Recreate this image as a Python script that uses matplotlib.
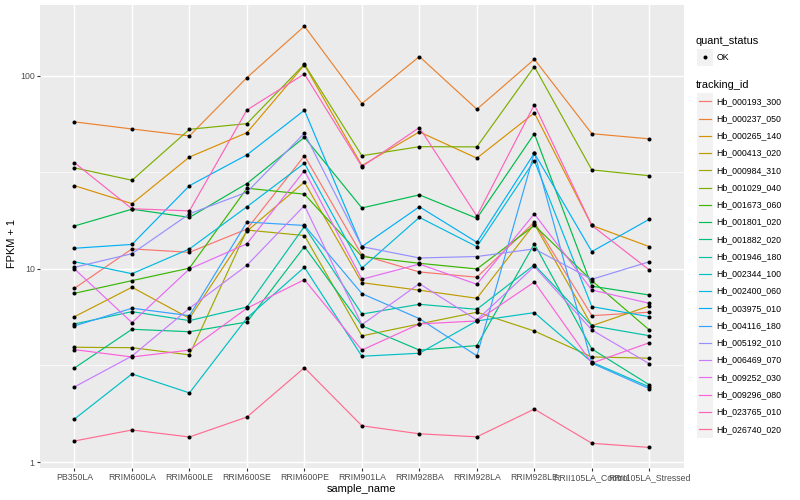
import matplotlib
matplotlib.use("Agg")
import matplotlib.pyplot as plt
from matplotlib.lines import Line2D
from matplotlib.patches import Rectangle
from matplotlib.ticker import FixedLocator, NullFormatter

plt.rcParams['font.family'] = ['Liberation Sans', 'DejaVu Sans']

samples = ["PB350LA", "RRIM600LA", "RRIM600LE", "RRIM600SE", "RRIM600PE",
           "RRIM901LA", "RRIM928BA", "RRIM928LA", "RRIM928LE",
           "RRII105LA_Control", "RRII105LA_Stressed"]

tracking_ids = ["Hb_000193_300", "Hb_000237_050", "Hb_000265_140", "Hb_000413_020",
                "Hb_000984_310", "Hb_001029_040", "Hb_001673_060", "Hb_001801_020",
                "Hb_001882_020", "Hb_001946_180", "Hb_002344_100", "Hb_002400_060",
                "Hb_003975_010", "Hb_004116_180", "Hb_005192_010", "Hb_006469_070",
                "Hb_009252_030", "Hb_009296_080", "Hb_023765_010", "Hb_026740_020"]

# FPKM + 1 per sample (order of `samples`)
hb_000193_300 = [7.94, 12.7, 12.2, 16.1, 38.6, 11.8, 9.65, 9.06, 17.5, 5.73, 5.97]
hb_000237_050 = [57.8, 53.1, 48.9, 98.0, 181, 71.9, 126, 67.2, 122, 50.2, 47.2]
hb_000265_140 = [27.0, 21.8, 38.0, 50.8, 114, 34.3, 51.3, 37.5, 64.3, 16.8, 13.05]
hb_000413_020 = [5.66, 8.04, 5.55, 15.7, 28.2, 8.49, 7.76, 7.05, 17.1, 5.08, 6.43]
hb_000984_310 = [3.93, 3.91, 3.59, 15.9, 14.9, 4.50, 5.19, 5.97, 4.77, 3.50, 3.45]
hb_001029_040 = [33.4, 28.8, 52.9, 56.6, 115, 38.6, 43.0, 42.9, 111.7, 32.6, 30.4]
hb_001673_060 = [7.48, 8.70, 10.1, 26.2, 24.4, 11.6, 10.7, 10.0, 16.8, 8.70, 4.83]
hb_001801_020 = [16.7, 20.4, 18.5, 27.7, 48.1, 20.7, 24.2, 18.3, 50.2, 8.14, 7.33]
hb_001882_020 = [3.07, 4.87, 4.73, 5.31, 13.05, 5.08, 3.80, 4.01, 13.5, 3.85, 2.51]
hb_001946_180 = [5.19, 6.01, 5.40, 6.35, 16.6, 5.84, 6.56, 6.18, 10.5, 5.08, 4.51]
hb_002344_100 = [1.67, 2.86, 2.28, 5.57, 10.2, 3.53, 3.66, 5.38, 5.94, 3.29, 2.45]
hb_002400_060 = [10.9, 9.45, 12.7, 21.0, 35.3, 10.1, 18.5, 13.05, 36.4, 6.38, 5.66]
hb_003975_010 = [12.8, 13.4, 27.0, 39.0, 66.4, 13.05, 21.0, 13.75, 39.8, 12.3, 18.1]
hb_004116_180 = [5.07, 6.26, 5.73, 17.5, 16.8, 7.45, 5.53, 3.55, 40.1, 3.25, 2.40]
hb_005192_010 = [10.2, 12.0, 19.3, 25.0, 50.5, 13.05, 11.4, 11.6, 12.7, 8.84, 10.9]
hb_006469_070 = [2.45, 3.54, 6.26, 10.45, 21.3, 5.14, 8.39, 5.44, 10.3, 4.83, 3.23]
hb_009252_030 = [10.0, 5.27, 10.0, 13.5, 32.3, 8.84, 10.6, 8.33, 19.3, 7.78, 6.64]
hb_009296_080 = [3.82, 3.50, 3.80, 6.26, 8.80, 3.80, 5.19, 5.38, 8.56, 3.25, 4.15]
hb_023765_010 = [35.5, 20.5, 20.0, 66.6, 102.4, 33.9, 54.0, 18.8, 71.0, 16.8, 9.88]
hb_026740_020 = [1.285, 1.465, 1.348, 1.71, 3.08, 1.54, 1.40, 1.35, 1.88, 1.25, 1.19]

series = [hb_000193_300, hb_000237_050, hb_000265_140, hb_000413_020, hb_000984_310,
          hb_001029_040, hb_001673_060, hb_001801_020, hb_001882_020, hb_001946_180,
          hb_002344_100, hb_002400_060, hb_003975_010, hb_004116_180, hb_005192_010,
          hb_006469_070, hb_009252_030, hb_009296_080, hb_023765_010, hb_026740_020]

colors = ["#F8766D", "#EA8331", "#D89000", "#C09B00", "#A3A500", "#7CAE00", "#39B600",
          "#00BB4E", "#00BF7D", "#00C1A3", "#00BFC4", "#00BAE0", "#00B0F6", "#35A2FF",
          "#9590FF", "#C77CFF", "#E76BF3", "#FA62DB", "#FF62BC", "#FF6C91"]

W, H = 800, 500
fig = plt.figure(figsize=(8, 5), dpi=100)
fig.patch.set_facecolor('white')

pl, pr, pt, pb = 40, 683.8, 5, 468
ax = fig.add_axes([pl / W, 1 - pb / H, (pr - pl) / W, (pb - pt) / H])
ax.set_facecolor('#EBEBEB')
for s in ax.spines.values():
    s.set_visible(False)

ax.set_yscale('log')
ax.set_xlim(-0.6, len(samples) - 1 + 0.6)
ax.set_ylim(0.931, 233)

xs = list(range(len(samples)))
for vals, c in zip(series, colors):
    ax.plot(xs, vals, color=c, lw=0.85, zorder=2, solid_capstyle='butt')
for vals in series:
    ax.plot(xs, vals, linestyle='none', marker='o', ms=2.9, color='black',
            markeredgewidth=0, zorder=3)

ax.yaxis.set_major_locator(FixedLocator([1, 10, 100]))
ax.yaxis.set_minor_locator(FixedLocator([10 ** 0.5, 10 ** 1.5]))
ax.yaxis.set_minor_formatter(NullFormatter())
ax.set_yticklabels(['1', '10', '100'])
ax.set_xticks(xs)
ax.set_xticklabels(samples)

ax.grid(which='major', color='white', lw=1.05, zorder=0)
ax.grid(which='minor', axis='y', color='white', lw=0.5, zorder=0)
ax.set_axisbelow(True)
ax.tick_params(which='major', length=2.0, width=0.8, color='#333333',
               labelsize=6.3, labelcolor='#4D4D4D', pad=1.8)
ax.tick_params(which='minor', length=0)

# axis titles
fig.text(12 / W, 1 - 243 / H, "FPKM + 1", rotation=90, fontsize=7.9,
         ha='center', va='center')
fig.text((pl + pr) / 2 / W, 1 - 489 / H, "sample_name", fontsize=7.9,
         ha='center', va='center')

# legends (ggplot style)
def fx(x):
    return x / W

def fy(y):
    return 1 - y / H

key_x0, key_w, key_h = 696.7, 16.3, 17.26
fig.text(fx(696), fy(40.7), "quant_status", fontsize=7.9, ha='left', va='center')
fig.patches.append(Rectangle((fx(key_x0), fy(57.3 + key_h / 2)), key_w / W, key_h / H,
                             transform=fig.transFigure, facecolor='#F2F2F2',
                             edgecolor='none'))
fig.add_artist(Line2D([fx(key_x0 + key_w / 2)], [fy(57.3)], marker='o', ms=2.9,
                      color='black', markeredgewidth=0, transform=fig.transFigure))
fig.text(fx(716.5), fy(57.3), "OK", fontsize=6.3, ha='left', va='center')

fig.text(fx(696), fy(84.5), "tracking_id", fontsize=7.9, ha='left', va='center')
for i, (name, c) in enumerate(zip(tracking_ids, colors)):
    yc = 101.3 + i * key_h
    fig.patches.append(Rectangle((fx(key_x0), fy(yc + key_h / 2)), key_w / W, key_h / H,
                                 transform=fig.transFigure, facecolor='#F2F2F2',
                                 edgecolor='none'))
    fig.add_artist(Line2D([fx(key_x0 + 1.8), fx(key_x0 + key_w - 1.8)], [fy(yc), fy(yc)],
                          color=c, lw=0.85, transform=fig.transFigure))
    fig.text(fx(716.5), fy(yc), name, fontsize=6.3, ha='left', va='center')

fig.savefig("out.png", dpi=100)
